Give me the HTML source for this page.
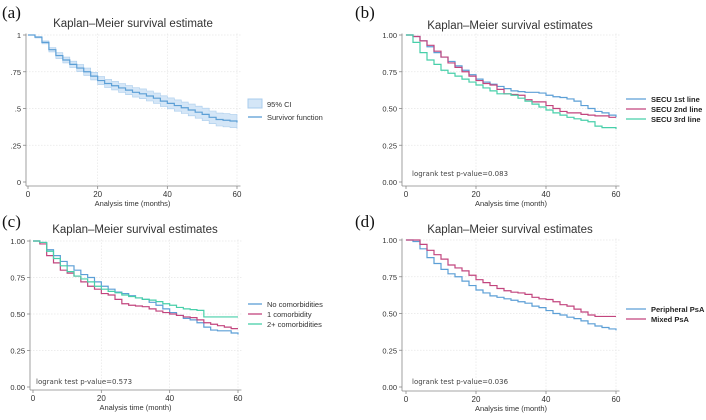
<!DOCTYPE html>
<html><head><meta charset="utf-8"><style>
html,body{margin:0;padding:0;background:#fff;width:706px;height:420px;overflow:hidden}
svg{display:block;font-family:"Liberation Sans",sans-serif}
</style></head><body>
<svg id="c" width="706" height="420"></svg>
<script>
const months=[0,2,4,6,8,10,12,14,16,18,20,22,24,26,28,30,32,34,36,38,40,42,44,46,48,50,52,54,56,58,60];
const aSurv=[1,.985,.95,.9,.86,.83,.8,.775,.75,.72,.69,.67,.655,.64,.625,.61,.6,.585,.57,.55,.535,.52,.505,.49,.475,.46,.44,.425,.42,.415,.405];
const aCIHalf=[0,.005,.01,.015,.02,.02,.022,.024,.025,.026,.027,.028,.029,.03,.031,.032,.033,.034,.035,.036,.037,.038,.039,.04,.041,.042,.043,.044,.045,.045,.045];
const bFirst=[1,.99,.96,.92,.88,.85,.82,.79,.76,.73,.7,.68,.665,.65,.635,.62,.615,.61,.61,.605,.59,.58,.575,.565,.55,.52,.5,.48,.47,.455,.44];
const bSecond=[1,.99,.96,.93,.89,.85,.81,.78,.75,.72,.69,.67,.66,.63,.6,.595,.59,.56,.545,.545,.52,.5,.48,.47,.47,.46,.455,.45,.45,.44,.44];
const bThird=[1,.95,.88,.83,.8,.76,.74,.72,.7,.68,.66,.64,.62,.6,.6,.59,.57,.55,.53,.51,.49,.47,.455,.44,.43,.42,.41,.38,.37,.37,.36];
const cNone=[1,.99,.94,.9,.86,.83,.8,.77,.75,.72,.69,.67,.65,.64,.625,.61,.6,.58,.56,.535,.51,.49,.47,.46,.44,.41,.39,.385,.385,.37,.36];
const cOne=[1,.98,.9,.85,.8,.78,.76,.72,.69,.67,.64,.63,.6,.57,.56,.555,.55,.535,.52,.51,.5,.49,.48,.475,.46,.44,.43,.42,.41,.4,.4];
const cTwo=[1,.99,.93,.88,.83,.79,.76,.74,.72,.69,.67,.655,.645,.63,.62,.61,.6,.595,.585,.57,.56,.545,.535,.53,.525,.48,.48,.48,.48,.48,.48];
const dPeri=[1,.99,.94,.88,.84,.8,.77,.75,.72,.69,.66,.64,.62,.61,.6,.59,.58,.57,.55,.54,.52,.5,.49,.475,.465,.45,.43,.415,.405,.395,.385];
const dMixed=[1,1,.97,.93,.9,.87,.83,.81,.79,.76,.73,.71,.69,.67,.655,.645,.64,.63,.61,.6,.595,.58,.56,.55,.53,.51,.49,.48,.48,.48,.48];
const xTicks=[0,20,40,60];
const yTicksA=[0,.25,.5,.75,1];const yLabA=["0",".25",".5",".75","1"];
const yLabB=["0.00","0.25","0.50","0.75","1.00"];
const BLUE="#5c9fd6",MAG="#c2457e",GRN="#47cfa9";
const NS="http://www.w3.org/2000/svg";
const svg=document.getElementById('c');
function mk(t,a,p){const e=document.createElementNS(NS,t);for(const k in a)e.setAttribute(k,a[k]);(p||svg).appendChild(e);return e;}
function txt(x,y,s,sz,anchor,p,extra){const e=mk('text',Object.assign({x:x,y:y,'font-size':sz,'text-anchor':anchor||'start',fill:'#333'},extra||{}),p);e.textContent=s;return e;}
function stepPath(xs,ys,sx,sy){let d='M'+sx(xs[0])+','+sy(ys[0]);for(let i=1;i<xs.length;i++){d+=' H'+sx(xs[i])+' V'+sy(ys[i]);}return d;}
function panel(o){
 const g=mk('g',{});
 
 
 const sx=v=>o.x0+(o.x1-o.x0)*v/60, sy=v=>o.y0+(o.y1-o.y0)*v;
 const lt=txt(o.lx,o.ly,o.letter,17,'start',g,{'font-family':'Liberation Serif, serif',fill:'#111'});
 
 const tt=txt(o.tx,o.ty,o.title,11.5,'middle',g);
 
 yTicksA.forEach(v=>{if(v>0)mk('line',{x1:o.ax,x2:sx(61),y1:sy(v),y2:sy(v),stroke:'#e6e6e6','stroke-width':.7,'stroke-dasharray':'1.5,1.5'},g);});
 xTicks.forEach(v=>{if(v>0)mk('line',{x1:sx(v),x2:sx(v),y1:sy(1.01),y2:o.ay,stroke:'#e6e6e6','stroke-width':.7,'stroke-dasharray':'1.5,1.5'},g);});
 const ya=mk('line',{x1:o.ax,x2:o.ax,y1:sy(1.01),y2:o.ay,stroke:'#888','stroke-width':.8},g);
 
 const xa=mk('line',{x1:o.ax,x2:sx(61),y1:o.ay,y2:o.ay,stroke:'#888','stroke-width':.8},g);
 
 yTicksA.forEach((v,i)=>{mk('line',{x1:o.ax-3,x2:o.ax,y1:sy(v),y2:sy(v),stroke:'#888','stroke-width':.8},g);
  const t=txt(o.ax-5,sy(v)+3,o.ylab[i],7.5,'end',g);});
 xTicks.forEach(v=>{mk('line',{x1:sx(v),x2:sx(v),y1:o.ay,y2:o.ay+3,stroke:'#888','stroke-width':.8},g);
  const t=txt(sx(v),o.ay+11,String(v),8,'middle',g);});
 const xl=txt((o.x0+o.x1)/2,o.ay+20,o.xlabel,7.5,'middle',g);
 
 if(o.ci){
  const hi=o.ci.s.map((v,i)=>Math.min(1,v+o.ci.h[i])), lo=o.ci.s.map((v,i)=>v-o.ci.h[i]);
  const n=months.length;
  let d='M'+sx(months[0])+','+sy(hi[0]);
  for(let i=1;i<n;i++)d+=' H'+sx(months[i])+' V'+sy(hi[i]);
  d+=' V'+sy(lo[n-1]);
  for(let i=n-1;i>=1;i--)d+=' H'+sx(months[i])+' V'+sy(lo[i-1]);
  d+=' H'+sx(months[0])+' Z';
  const b=mk('path',{d:d,fill:'#d4e6f7',stroke:'#a9ccec','stroke-width':.6},g);}
 o.series.forEach(s=>{const p=mk('path',{d:stepPath(months,s.v,sx,sy),fill:'none',stroke:s.c,'stroke-width':1.2},g);
  });
 o.legend.forEach((l,i)=>{const y=o.legY+i*o.legDy;
  if(l.box){const r=mk('rect',{x:o.legX,y:y-5,width:14,height:9,fill:'#d4e6f7',stroke:'#a9ccec'},g);}
  else{const r=mk('line',{x1:o.legX,x2:o.legX+(l.w||14),y1:y,y2:y,stroke:l.c,'stroke-width':1.3},g);}
  const t=txt(o.legX+(l.w||14)+5,y+3,l.t,7.5,'start',g,o.legBold?{'font-weight':'bold',fill:'#222'}:{});
  });
 if(o.pval){const t=txt(o.px,o.py,o.pval,8,'start',g,{'font-family':'DejaVu Sans, sans-serif','font-size':7,fill:'#444'});}
}
panel({name:'panel-a',letter:'(a)',lx:2,ly:18,title:'Kaplan–Meier survival estimate',tx:133,ty:27,x0:28,x1:237,y0:182,y1:35,ax:26,ay:186,ylab:yLabA,xlabel:'Analysis time (months)',
 ci:{s:aSurv,h:aCIHalf},series:[{id:'survivor-function-line',v:aSurv,c:BLUE}],legX:248,legY:104,legDy:13,legend:[{box:true,t:'95% CI'},{c:BLUE,t:'Survivor function'}]});
panel({name:'panel-b',letter:'(b)',lx:355,ly:18,title:'Kaplan–Meier survival estimates',tx:510,ty:29,x0:406,x1:616,y0:182,y1:35,ax:402,ay:186,ylab:yLabB,xlabel:'Analysis time (month)',
 series:[{id:'secu-1st-line',v:bFirst,c:BLUE},{id:'secu-2nd-line',v:bSecond,c:MAG},{id:'secu-3rd-line',v:bThird,c:GRN}],legX:626,legY:99,legDy:10,legBold:true,legend:[{c:BLUE,t:'SECU 1st line',w:20},{c:MAG,t:'SECU 2nd line',w:20},{c:GRN,t:'SECU 3rd line',w:20}],pval:'logrank test p-value=0.083',px:412,py:176});
panel({name:'panel-c',letter:'(c)',lx:2,ly:227,title:'Kaplan–Meier survival estimates',tx:135,ty:233,x0:33,x1:238,y0:387,y1:241,ax:30,ay:390,ylab:yLabB,xlabel:'Analysis time (month)',
 series:[{id:'no-comorbidities',v:cNone,c:BLUE},{id:'one-comorbidity',v:cOne,c:MAG},{id:'two-plus-comorbidities',v:cTwo,c:GRN}],legX:248,legY:304,legDy:10,legend:[{c:BLUE,t:'No comorbidities'},{c:MAG,t:'1 comorbidity'},{c:GRN,t:'2+ comorbidities'}],pval:'logrank test p-value=0.573',px:36,py:384});
panel({name:'panel-d',letter:'(d)',lx:355,ly:227,title:'Kaplan–Meier survival estimates',tx:510,ty:233,x0:406,x1:616,y0:387,y1:240,ax:402,ay:391,ylab:yLabB,xlabel:'Analysis time (month)',
 series:[{id:'peripheral-psa',v:dPeri,c:BLUE},{id:'mixed-psa',v:dMixed,c:MAG}],legX:626,legY:309,legDy:10,legBold:true,legend:[{c:BLUE,t:'Peripheral PsA',w:20},{c:MAG,t:'Mixed PsA',w:20}],pval:'logrank test p-value=0.036',px:412,py:384});
</script>
</body></html>
